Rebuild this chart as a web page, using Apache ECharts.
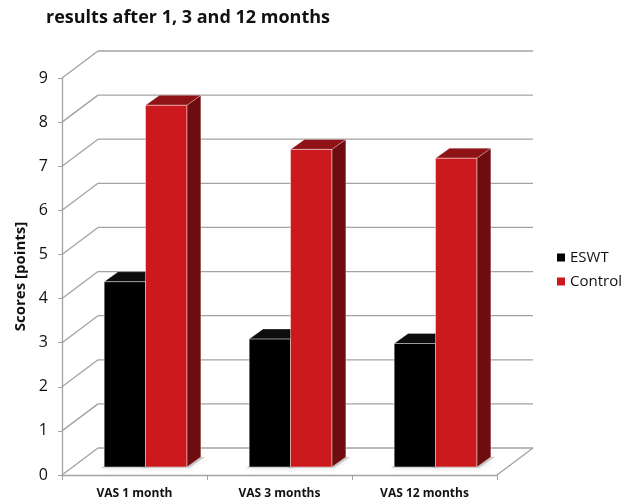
<!DOCTYPE html>
<html><head><meta charset="utf-8">
<script src="https://cdn.jsdelivr.net/npm/echarts@6/dist/echarts.min.js"></script>
<style>html,body{margin:0;padding:0;background:#fff}#chart{width:633px;height:502px}</style>
</head><body><div id="chart"></div>
<script>
// Mean VAS scores per follow-up visit
const categories = ['VAS 1 month', 'VAS 3 months', 'VAS 12 months'];
const eswt = [4.2, 2.9, 2.8];
const control = [8.2, 7.2, 7.0];
const gridValues = [0, 1, 2, 3, 4, 5, 6, 7, 8, 9];

// Oblique projection used for the pseudo-3D look
const WALL_DX = 36, WALL_DY = -27;      // depth of the floor / back wall
const BAR_OFF_DX = 11, BAR_OFF_DY = -8; // bars stand in the middle of the depth
const BAR_DX = 14, BAR_DY = -10;        // depth of a single bar
const BAR_FRAC = 0.285;                 // bar width as a share of the category band

const FONT = '"Open Sans", Lato, sans-serif';
const GRID_COLOR = '#a3a3a3';

function wallItem(params, api) {
  const cs = params.coordSys;
  const v = api.value(1);
  const y = api.coord([0, v])[1];
  const x0 = cs.x, x1 = cs.x + cs.width;
  const lineStyle = { stroke: GRID_COLOR, lineWidth: 1.3 };
  const children = [
    { type: 'line', shape: { x1: x0, y1: y, x2: x0 + WALL_DX, y2: y + WALL_DY }, style: lineStyle },
    { type: 'line', shape: { x1: x0 + WALL_DX, y1: y + WALL_DY, x2: x1 + WALL_DX, y2: y + WALL_DY }, style: lineStyle }
  ];
  if (v === 0) {
    children.push({ type: 'line', shape: { x1: x1, y1: y, x2: x1 + WALL_DX, y2: y + WALL_DY }, style: lineStyle });
  }
  return { type: 'group', children: children };
}

function barRenderer(side, front, top, flank) {
  return function (params, api) {
    const ci = api.value(0), v = api.value(1);
    const base = api.coord([ci, 0]);
    const peak = api.coord([ci, v]);
    const w = api.size([1, 0])[0] * BAR_FRAC;
    const x0 = base[0] + (side < 0 ? -w : 0) + BAR_OFF_DX;
    const x1 = x0 + w;
    const yb = base[1] + BAR_OFF_DY;
    const yt = peak[1] + BAR_OFF_DY;
    const edge = 'rgba(255,255,255,0.45)';
    return {
      type: 'group',
      children: [
        { type: 'polygon', z2: 0,
          shape: { points: [[x0 - 3, yb + 1], [x1 + 2, yb + 1], [x1 + BAR_DX + 4, yb + BAR_DY], [x0 + BAR_DX, yb + BAR_DY]] },
          style: { fill: 'rgba(120,120,120,0.35)', shadowBlur: 6, shadowColor: 'rgba(0,0,0,0.35)' } },
        { type: 'polygon', z2: 1,
          shape: { points: [[x1, yb], [x1 + BAR_DX, yb + BAR_DY], [x1 + BAR_DX, yt + BAR_DY], [x1, yt]] },
          style: { fill: flank, stroke: edge, lineWidth: 0.6 } },
        { type: 'polygon', z2: 1,
          shape: { points: [[x0, yt], [x0 + BAR_DX, yt + BAR_DY], [x1 + BAR_DX, yt + BAR_DY], [x1, yt]] },
          style: { fill: top, stroke: edge, lineWidth: 0.6 } },
        { type: 'rect', z2: 2,
          shape: { x: x0, y: yt, width: w, height: yb - yt },
          style: { fill: front, stroke: edge, lineWidth: 1 } }
      ]
    };
  };
}

const chart = echarts.init(document.getElementById('chart'), null, { renderer: 'canvas' });
chart.setOption({
  animation: false,
  backgroundColor: '#ffffff',
  title: {
    text: 'results after 1, 3 and 12 months',
    left: 41, top: 4,
    textStyle: { fontFamily: FONT, fontWeight: 'bold', fontSize: 18, color: '#111' }
  },
  legend: {
    orient: 'vertical',
    left: 552, top: 245,
    itemWidth: 8, itemHeight: 8, itemGap: 9,
    icon: 'rect',
    data: ['ESWT', 'Control'],
    textStyle: { fontFamily: FONT, fontSize: 15, color: '#111' }
  },
  grid: { left: 62, top: 78, width: 435, height: 397, containLabel: false },
  xAxis: {
    type: 'category',
    data: categories,
    axisLine: { lineStyle: { color: GRID_COLOR, width: 1.3 } },
    axisTick: { show: true, length: 5, alignWithLabel: false, lineStyle: { color: GRID_COLOR } },
    axisLabel: { fontFamily: FONT, fontWeight: 'bold', fontSize: 12, color: '#111', margin: 13 },
    splitLine: { show: false }
  },
  yAxis: {
    type: 'value',
    min: 0, max: 9, interval: 1,
    name: 'Scores [points]',
    nameLocation: 'middle',
    nameGap: 33,
    nameTextStyle: { fontFamily: FONT, fontWeight: 'bold', fontSize: 15, color: '#111' },
    axisLine: { show: true, lineStyle: { color: GRID_COLOR, width: 1.3 } },
    axisTick: { show: true, length: 4, lineStyle: { color: GRID_COLOR } },
    axisLabel: { fontFamily: FONT, fontSize: 16, color: '#111', margin: 14 },
    splitLine: { show: false }
  },
  series: [
    {
      type: 'custom', name: 'walls', silent: true, z: 1,
      renderItem: wallItem,
      data: gridValues.map(v => [0, v]),
      encode: { x: 0, y: 1 }
    },
    {
      type: 'custom', name: 'ESWT', z: 3,
      itemStyle: { color: '#000000' },
      renderItem: barRenderer(-1, '#000000', '#0d0d0d', '#1a1a1a'),
      data: eswt.map((v, i) => [i, v]),
      encode: { x: 0, y: 1 }
    },
    {
      type: 'custom', name: 'Control', z: 4,
      itemStyle: { color: '#cc191e' },
      renderItem: barRenderer(1, '#cc191e', '#8e1216', '#6f0c0f'),
      data: control.map((v, i) => [i, v]),
      encode: { x: 0, y: 1 }
    }
  ]
});
</script>
</body></html>
